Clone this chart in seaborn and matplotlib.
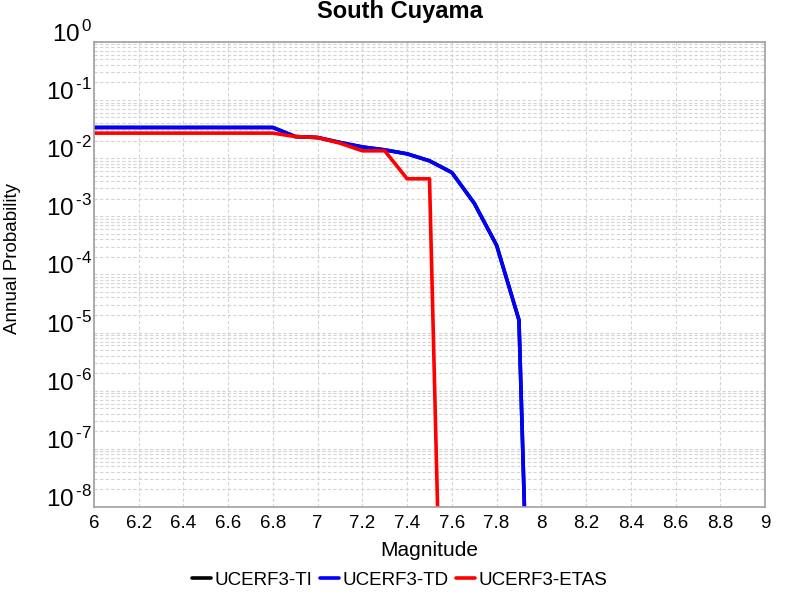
import numpy as np
import pandas as pd
import matplotlib
matplotlib.use("Agg")
import matplotlib.pyplot as plt
import seaborn as sns
from matplotlib.ticker import LogLocator, FixedLocator, NullFormatter

# magnitude bins and annual probabilities
mag_td = [6.0, 6.1, 6.2, 6.3, 6.4, 6.5, 6.6, 6.7, 6.8, 6.9, 7.0,
          7.1, 7.2, 7.3, 7.4, 7.5, 7.6, 7.7, 7.8, 7.9, 8.0]
prob_td = [0.0335, 0.0335, 0.0335, 0.0335, 0.0335, 0.0335, 0.0335, 0.0335, 0.0335,
           0.0234, 0.0225, 0.0185, 0.0155, 0.0138, 0.0118, 0.00895, 0.00563,
           0.00167, 3.16e-4, 1.64e-5, 1e-18]
prob_ti = list(prob_td)  # TI curve lies under TD

mag_etas = [6.0, 6.1, 6.2, 6.3, 6.4, 6.5, 6.6, 6.7, 6.8, 6.9, 7.0,
            7.1, 7.2, 7.3, 7.4, 7.5, 7.6]
prob_etas = [0.0268, 0.0268, 0.0268, 0.0268, 0.0268, 0.0268, 0.0268, 0.0268, 0.0268,
             0.0234, 0.0225, 0.018, 0.0133, 0.0133, 0.00439, 0.00439, 1e-18]

models = ["UCERF3-TI", "UCERF3-TD", "UCERF3-ETAS"]
colors = ["black", "#0000ff", "#ff0000"]
x_ticks = [6, 6.2, 6.4, 6.6, 6.8, 7, 7.2, 7.4, 7.6, 7.8, 8, 8.2, 8.4, 8.6, 8.8, 9]
x_labels = ["6", "6.2", "6.4", "6.6", "6.8", "7", "7.2", "7.4", "7.6", "7.8",
            "8", "8.2", "8.4", "8.6", "8.8", "9"]
y_exps = [-8, -7, -6, -5, -4, -3, -2, -1, 0]

df = pd.concat([
    pd.DataFrame({"Magnitude": mag_td, "Prob": prob_ti, "Model": models[0]}),
    pd.DataFrame({"Magnitude": mag_td, "Prob": prob_td, "Model": models[1]}),
    pd.DataFrame({"Magnitude": mag_etas, "Prob": prob_etas, "Model": models[2]}),
])

sns.set_style("white")
plt.rcParams["font.family"] = ["Liberation Sans", "DejaVu Sans"]
plt.rcParams["mathtext.fontset"] = "custom"
plt.rcParams["mathtext.rm"] = "Liberation Sans"
plt.rcParams["text.color"] = "black"
plt.rcParams["axes.labelcolor"] = "black"
plt.rcParams["xtick.color"] = "black"
plt.rcParams["ytick.color"] = "black"

fig = plt.figure(figsize=(8, 6), dpi=100)
ax = fig.add_axes([0.1175, 0.155, 0.83875, 0.7755])

sns.lineplot(data=df, x="Magnitude", y="Prob", hue="Model", hue_order=models,
             palette=colors, linewidth=2.6, sort=False, estimator=None,
             ax=ax, legend=True)

ax.set_yscale("log")
ax.set_xlim(6, 9)
ax.set_ylim(1e-8, 1)

ax.xaxis.set_major_locator(FixedLocator(x_ticks))
ax.set_xticklabels(x_labels, fontsize=13.5)
ax.yaxis.set_major_locator(FixedLocator([10.0 ** e for e in y_exps]))
ax.set_yticklabels([r"$10^{\,\text{%d}}$" % e for e in y_exps], fontsize=17.5,
                   va="baseline")
ax.yaxis.set_minor_locator(LogLocator(base=10, subs=np.arange(2, 10), numticks=20))
ax.yaxis.set_minor_formatter(NullFormatter())
ax.tick_params(axis="both", which="both", length=0)
ax.tick_params(axis="x", pad=6)
ax.tick_params(axis="y", pad=1)

ax.grid(True, which="major", axis="x", color="#d4d4d4", linestyle=(0, (3, 2)), linewidth=0.8)
ax.grid(True, which="both", axis="y", color="#d4d4d4", linestyle=(0, (3, 2)), linewidth=0.8)
ax.set_axisbelow(True)
for s in ax.spines.values():
    s.set_color("#a0a0a0")
    s.set_linewidth(1.2)

fig.text(0.5, 1 - 18 / 600, "South Cuyama", fontsize=17, fontweight="bold",
         ha="center", va="baseline")
ax.set_xlabel("Magnitude", fontsize=15, labelpad=6)
ax.set_ylabel("Annual Probability", fontsize=13.5)
ax.yaxis.label.set_verticalalignment("center")
ax.yaxis.set_label_coords(-0.1222, 0.534)

handles, labels = ax.get_legend_handles_labels()
ax.get_legend().remove()
for h in handles:
    h.set_linewidth(2.6)
fig.legend(handles, labels, loc="center", bbox_to_anchor=(0.5, 0.033), ncol=3,
           frameon=False, fontsize=13.5, handlelength=1.0, handletextpad=0.2,
           columnspacing=0.4)

fig.savefig("out.png", dpi=100)
